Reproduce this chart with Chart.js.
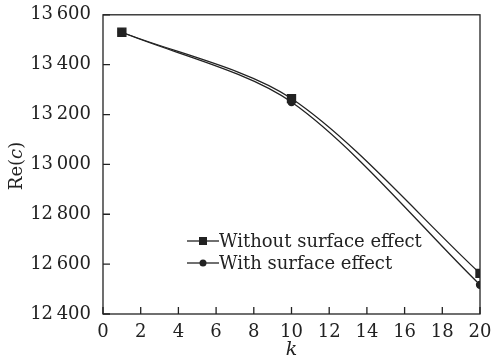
<!DOCTYPE html>
<html>
<head>
<meta charset="utf-8">
<script src="https://cdn.jsdelivr.net/npm/chart.js@4"></script>
<style>
  html, body { margin: 0; padding: 0; background: #fff; }
  #wrap { width: 493px; height: 362px; }
</style>
</head>
<body>
<div id="wrap"><canvas id="chart"></canvas></div>
<script>
// values
const kValues = [1, 10, 20];
const withoutSurface = [13530, 13264, 12563];
const withSurface = [13530, 13250, 12517];
const seriesNames = ['Without surface effect', 'With surface effect'];
const xTicks = [0, 2, 4, 6, 8, 10, 12, 14, 16, 18, 20];
const yTicks = [12400, 12600, 12800, 13000, 13200, 13400, 13600];

const serif = "'DejaVu Serif', 'Liberation Serif', serif";
const ink = '#222';

function fmt(v) {
    const s = String(v);
    return s.length > 3 ? s.slice(0, s.length - 3) + '\u2009' + s.slice(-3) : s;
}

// frame, inward ticks, y title and legend
const extras = {
    id: 'extras',
    afterDraw(chart) {
        const ctx = chart.ctx;
        const a = chart.chartArea;
        const xs = chart.scales.x;
        const ys = chart.scales.y;
        ctx.save();
        ctx.strokeStyle = ink;
        ctx.lineWidth = 1.3;
        ctx.strokeRect(a.left, a.top, a.right - a.left, a.bottom - a.top);
        ctx.beginPath();
        for (const t of xTicks) {
            const px = xs.getPixelForValue(t);
            ctx.moveTo(px, a.bottom);
            ctx.lineTo(px, a.bottom - 7);
        }
        for (const t of yTicks) {
            const py = ys.getPixelForValue(t);
            ctx.moveTo(a.left, py);
            ctx.lineTo(a.left + 7, py);
        }
        ctx.stroke();

        // y title Re(c), c italic
        ctx.translate(17, 166);
        ctx.rotate(-Math.PI / 2);
        ctx.fillStyle = ink;
        ctx.textBaseline = 'middle';
        const parts = [['Re(', 'normal'], ['c', 'italic'], [')', 'normal']];
        let total = 0;
        for (const p of parts) {
            ctx.font = p[1] + ' 18px ' + serif;
            total += ctx.measureText(p[0]).width;
        }
        let x = -total / 2;
        for (const p of parts) {
            ctx.font = p[1] + ' 18px ' + serif;
            ctx.fillText(p[0], x, 0);
            x += ctx.measureText(p[0]).width;
        }
        ctx.restore();

        // legend
        ctx.save();
        ctx.font = '18px ' + serif;
        ctx.fillStyle = ink;
        ctx.strokeStyle = ink;
        ctx.textBaseline = 'middle';
        const rows = [241, 263];
        chart.data.datasets.forEach((ds, i) => {
            const y = rows[i];
            ctx.lineWidth = 1.3;
            ctx.beginPath();
            ctx.moveTo(187, y);
            ctx.lineTo(219, y);
            ctx.stroke();
            ctx.beginPath();
            if (ds.pointStyle === 'rect') {
                ctx.rect(199, y - 4, 8, 8);
            } else {
                ctx.arc(203, y, 3.5, 0, Math.PI * 2);
            }
            ctx.fill();
            ctx.fillText(seriesNames[i], 219, y + 1);
        });
        ctx.restore();
    }
};

new Chart(document.getElementById('chart'), {
    type: 'line',
    data: {
        datasets: [{
            label: seriesNames[0],
            data: kValues.map((k, i) => ({ x: k, y: withoutSurface[i] })),
            borderColor: ink,
            backgroundColor: ink,
            borderWidth: 1.3,
            pointStyle: 'rect',
            pointRadius: 5.7,
            tension: 0.3
        }, {
            label: seriesNames[1],
            data: kValues.map((k, i) => ({ x: k, y: withSurface[i] })),
            borderColor: ink,
            backgroundColor: ink,
            borderWidth: 1.3,
            pointStyle: 'circle',
            pointRadius: 3.5,
            tension: 0.3
        }]
    },
    options: {
        responsive: true,
        maintainAspectRatio: false,
        animation: false,
        layout: { padding: { left: 0, top: 12, right: 13, bottom: 0 } },
        plugins: { legend: { display: false }, tooltip: { enabled: false } },
        scales: {
            x: {
                type: 'linear',
                min: 0,
                max: 20,
                afterBuildTicks: (s) => { s.ticks = xTicks.map(v => ({ value: v })); },
                afterFit: (s) => { s.height = 48; },
                grid: { display: false },
                border: { display: false },
                ticks: { color: ink, font: { family: serif, size: 18 }, padding: 0, maxRotation: 0 },
                title: { display: true, text: 'k', color: ink, font: { family: serif, size: 19, style: 'italic' }, padding: { top: 0, bottom: 1 } }
            },
            y: {
                min: 12400,
                max: 13600,
                afterBuildTicks: (s) => { s.ticks = yTicks.map(v => ({ value: v })); },
                afterFit: (s) => { s.width = 103; },
                grid: { display: false },
                border: { display: false },
                ticks: { color: ink, font: { family: serif, size: 18 }, padding: 4, callback: (v) => fmt(v) }
            }
        }
    },
    plugins: [extras]
});
</script>
</body>
</html>
